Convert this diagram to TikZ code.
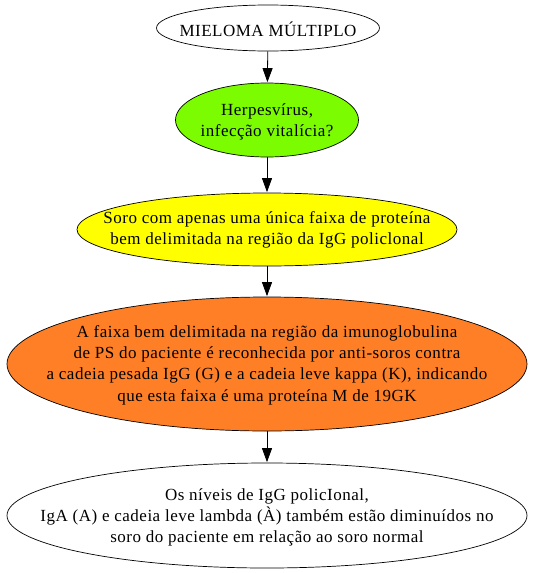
\documentclass[tikz,border=0pt]{standalone}
\usepackage{fontspec}
\setmainfont{Liberation Serif}[LetterSpace=3]
\usetikzlibrary{shapes.geometric,arrows.meta}
\definecolor{lgreen}{HTML}{7CFC00}
\definecolor{lyellow}{HTML}{FFFF00}
\definecolor{lorange}{HTML}{FF7F27}
\begin{document}
\begin{tikzpicture}[x=1pt,y=-1pt,
  ell/.style={draw=black,line width=0.7pt,ellipse,inner sep=0pt},
  txt/.style={inner sep=0pt,align=center,font=\fontsize{17}{21.3}\selectfont},
  arr/.style={-{Triangle[length=14pt,width=10pt]},line width=0.8pt,shorten >=0.5pt}]
\useasboundingbox (0,0) rectangle (533,573);
\node[ell,minimum width=223pt,minimum height=46pt] (a) at (268,28) {};
\node[txt] (ta) at ([yshift=-1pt]a.center) {MIELOMA MÚLTIPLO};
\node[ell,fill=lgreen,minimum width=183pt,minimum height=74pt] (b) at (267,120) {};
\node[txt] (tb) at ([yshift=-2pt]b.center) {Herpesvírus,\\infecção vitalícia?};
\node[ell,fill=lyellow,minimum width=380pt,minimum height=73pt] (c) at (267,229.5) {};
\node[txt] (tc) at (c) {Soro com apenas uma única faixa de proteína\\bem delimitada na região da IgG policlonal};
\node[ell,fill=lorange,minimum width=520pt,minimum height=134pt] (d) at (267,364) {};
\node[txt] (td) at ([yshift=-1pt]d.center) {A faixa bem delimitada na região da imunoglobulina\\de PS do paciente é reconhecida por anti-soros contra\\a cadeia pesada IgG (G) e a cadeia leve kappa (K), indicando\\que esta faixa é uma proteína M de 19GK};
\node[ell,minimum width=520pt,minimum height=105pt] (e) at (267,515.5) {};
\node[txt] (te) at ([yshift=-2pt]e.center) {Os níveis de IgG policIonal,\\IgA (A) e cadeia leve lambda (À) também estão diminuídos no\\soro do paciente em relação ao soro normal};
\draw[arr] (a) -- (b);
\draw[arr] (b) -- (c);
\draw[arr] (c) -- (d);
\draw[arr] (d) -- (e);
\end{tikzpicture}
\end{document}
